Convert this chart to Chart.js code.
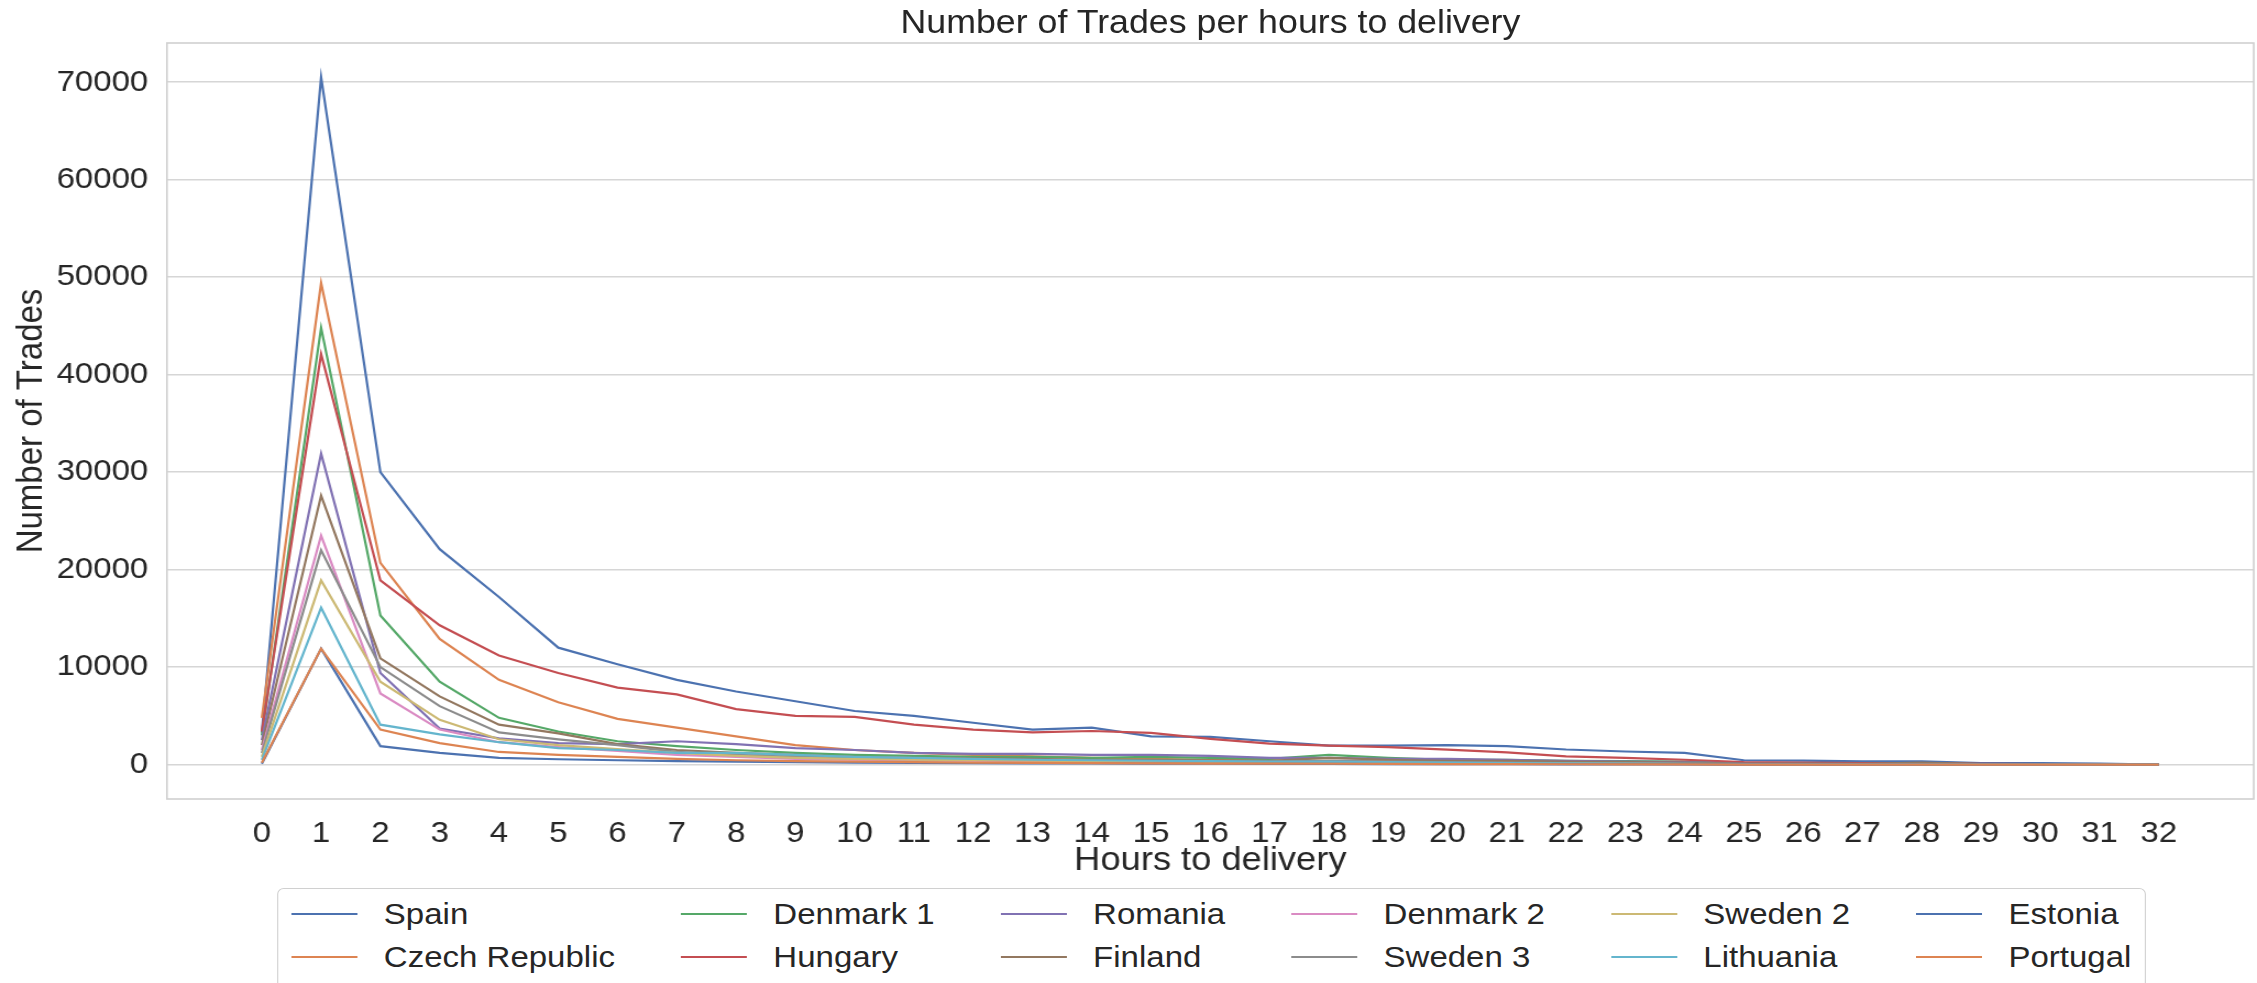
<!DOCTYPE html>
<html>
<head>
<meta charset="utf-8">
<title>Number of Trades per hours to delivery</title>
<script src="https://cdn.jsdelivr.net/npm/chart.js@4.4.1/dist/chart.umd.min.js"></script>
<style>
  html, body { margin: 0; padding: 0; background: #fff; overflow: hidden; }
  /* the source figure is slightly stretched sideways, so the stage is too */
  #stage {
    position: relative; width: 2052px; height: 983px;
    transform: scaleX(1.0999); transform-origin: 0 0;
    font-family: "Liberation Sans", Arial, sans-serif; color: #262626;
  }
  #trades-chart { position: absolute; left: 0; top: 0; }
  #chart-title {
    position: absolute; left: 152px; width: 1897px; top: 3px;
    text-align: center; font-size: 32.5px; line-height: 38px;
  }
  #legend {
    position: absolute; left: 252px; top: 888px;
    border: 1.5px solid #d0d0d0; border-radius: 6px; background: #fff;
    padding: 10px 12px 30px 12px;
    display: grid; grid-template-rows: repeat(2, 30px); grid-auto-flow: column;
    column-gap: 60px; row-gap: 13px; font-size: 30px; line-height: 30px;
  }
  .item { display: flex; align-items: center; white-space: nowrap; }
  .swatch { width: 60px; height: 0; border-top: 2.2px solid; margin-right: 24px; }
</style>
</head>
<body>
<div id="stage">
  <canvas id="trades-chart" width="2052" height="983"></canvas>
  <div id="chart-title">Number of Trades per hours to delivery</div>
  <div id="legend"></div>
</div>
<script>
// ── DATA ───────────────────────────────────────────────
const hours  = [0, 1, 2, 3, 4, 5, 6, 7, 8, 9, 10, 11, 12, 13, 14, 15, 16,
                17, 18, 19, 20, 21, 22, 23, 24, 25, 26, 27, 28, 29, 30, 31, 32];
const yTicks = [0, 10000, 20000, 30000, 40000, 50000, 60000, 70000];

const countries = ['Spain', 'Czech Republic', 'Denmark 1', 'Hungary', 'Romania', 'Finland',
                   'Denmark 2', 'Sweden 3', 'Sweden 2', 'Lithuania', 'Estonia', 'Portugal'];

const spain     = [3300, 70500, 30000, 22100, 17200, 12000, 10300, 8700, 7500, 6500, 5500, 5000, 4300, 3600, 3800, 2900, 2850,
                   2400, 1950, 1950, 2000, 1900, 1550, 1350, 1200, 450, 420, 330, 330, 170, 170, 100, 0];
const czech     = [4800, 49400, 20700, 12900, 8700, 6400, 4700, 3800, 2900, 2000, 1500, 1200, 1000, 850, 700, 600, 500,
                   450, 400, 350, 300, 250, 200, 180, 150, 100, 90, 80, 70, 50, 40, 30, 0];
const denmark1  = [3000, 44800, 15300, 8500, 4800, 3400, 2400, 1900, 1500, 1200, 1000, 900, 800, 800, 700, 800, 700,
                   600, 1000, 700, 500, 500, 400, 350, 300, 150, 120, 100, 100, 60, 50, 30, 0];
const hungary   = [3400, 42100, 18900, 14300, 11200, 9400, 7900, 7200, 5700, 5000, 4900, 4100, 3600, 3300, 3450, 3250, 2650,
                   2150, 1950, 1800, 1550, 1250, 850, 700, 500, 250, 200, 150, 150, 80, 60, 30, 0];
const romania   = [2500, 31900, 9400, 3700, 2700, 2200, 2100, 2400, 2100, 1700, 1500, 1200, 1100, 1100, 1000, 1000, 900,
                   700, 700, 600, 600, 500, 400, 300, 250, 100, 80, 60, 50, 40, 30, 20, 0];
const finland   = [2000, 27600, 10900, 7000, 4100, 3200, 2100, 1500, 1200, 1000, 800, 700, 650, 600, 500, 500, 450,
                   400, 700, 500, 400, 400, 300, 250, 200, 100, 100, 80, 200, 50, 40, 20, 0];
const denmark2  = [1500, 23500, 7300, 3600, 2300, 1800, 1400, 1000, 800, 600, 500, 450, 400, 350, 300, 300, 250,
                   200, 200, 150, 150, 120, 100, 80, 60, 40, 30, 30, 20, 20, 10, 10, 0];
const sweden3   = [1200, 22000, 10000, 6000, 3300, 2600, 2000, 1300, 1000, 800, 700, 600, 500, 500, 400, 400, 350,
                   300, 400, 300, 250, 200, 150, 120, 100, 60, 50, 40, 60, 30, 20, 10, 0];
const sweden2   = [800, 18900, 8500, 4600, 2600, 2000, 1600, 1200, 900, 700, 600, 500, 450, 400, 350, 300, 250,
                   200, 250, 200, 150, 120, 100, 80, 60, 40, 30, 30, 40, 20, 10, 10, 0];
const lithuania = [500, 16100, 4100, 3100, 2300, 1700, 1500, 1200, 1200, 1000, 800, 700, 600, 500, 450, 400, 350,
                   300, 300, 250, 200, 150, 120, 100, 80, 50, 40, 30, 30, 20, 10, 10, 0];
const estonia   = [100, 11900, 1900, 1200, 700, 550, 450, 350, 300, 250, 200, 180, 150, 130, 120, 100, 90,
                   80, 70, 60, 50, 40, 30, 25, 20, 10, 10, 5, 5, 5, 0, 0, 0];
const portugal  = [200, 11900, 3600, 2200, 1300, 1000, 800, 600, 450, 350, 300, 250, 200, 180, 150, 130, 110,
                   100, 90, 80, 60, 50, 40, 30, 20, 10, 10, 5, 5, 5, 0, 0, 0];

const seriesValues = [spain, czech, denmark1, hungary, romania, finland,
                      denmark2, sweden3, sweden2, lithuania, estonia, portugal];

// seaborn "deep" palette, cycling after ten colours
const palette = ['#4c72b0', '#dd8452', '#55a868', '#c44e52', '#8172b3',
                 '#937860', '#da8bc3', '#8c8c8c', '#ccb974', '#64b5cd'];

const textColour = '#262626';
const fontFamily = '"Liberation Sans", Arial, sans-serif';

// ── PLOT FRAME (all four spines) ───────────────────────
const framePlugin = {
  id: 'frame',
  afterDraw(chart) {
    const { ctx, chartArea: a } = chart;
    ctx.save();
    ctx.strokeStyle = '#d0d0d0';
    ctx.lineWidth = 1.6;
    ctx.strokeRect(a.left, a.top, a.right - a.left, a.bottom - a.top);
    ctx.restore();
  },
};

const datasets = countries.map((name, i) => ({
  label: name,
  data: hours.map((h, j) => ({ x: h, y: seriesValues[i][j] })),
  borderColor: palette[i % palette.length],
  backgroundColor: palette[i % palette.length],
  borderWidth: 2.2,
  pointRadius: 0,
  tension: 0,
  fill: false,
  order: countries.length - i,   // later series on top, like matplotlib
}));

const ctx = document.getElementById('trades-chart').getContext('2d');
new Chart(ctx, {
  type: 'line',
  data: { datasets },
  options: {
    responsive: false,
    animation: false,
    layout: { padding: { top: 43, right: 3, bottom: 99, left: 0 } },
    plugins: {
      legend:  { display: false },
      title:   { display: false },
      tooltip: { enabled: false },
    },
    scales: {
      x: {
        type: 'linear',
        min: -1.6,
        max: 33.6,
        afterBuildTicks: (axis) => { axis.ticks = hours.map(v => ({ value: v })); },
        afterFit: (axis) => { axis.height = 85; },
        grid:   { display: false },
        border: { display: false },
        ticks: {
          autoSkip: false, maxRotation: 0, padding: 9,
          color: textColour, font: { family: fontFamily, size: 30 },
          callback: (v) => String(v),
        },
        title: {
          display: true, text: 'Hours to delivery',
          color: textColour, font: { family: fontFamily, size: 33 },
          padding: { top: 0, bottom: 3 },
        },
      },
      y: {
        type: 'linear',
        min: -3525,
        max: 74025,
        afterBuildTicks: (axis) => { axis.ticks = yTicks.map(v => ({ value: v })); },
        afterFit: (axis) => { axis.width = 151.8; },
        grid:   { color: '#d6d6d6', lineWidth: 1.6, drawTicks: false },
        border: { display: false },
        ticks: {
          padding: 17,
          color: textColour, font: { family: fontFamily, size: 30 },
          callback: (v) => String(v),
        },
        title: {
          display: true, text: 'Number of Trades',
          color: textColour, font: { family: fontFamily, size: 33 },
          padding: { top: 9, bottom: 0 },
        },
      },
    },
  },
  plugins: [framePlugin],
});

// ── LEGEND (2 rows, filled column by column) ───────────
document.getElementById('legend').innerHTML = countries.map((name, i) => `
  <div class="item">
    <span class="swatch" style="border-color: ${palette[i % palette.length]}"></span>
    <span>${name}</span>
  </div>`).join('');
</script>
</body>
</html>
